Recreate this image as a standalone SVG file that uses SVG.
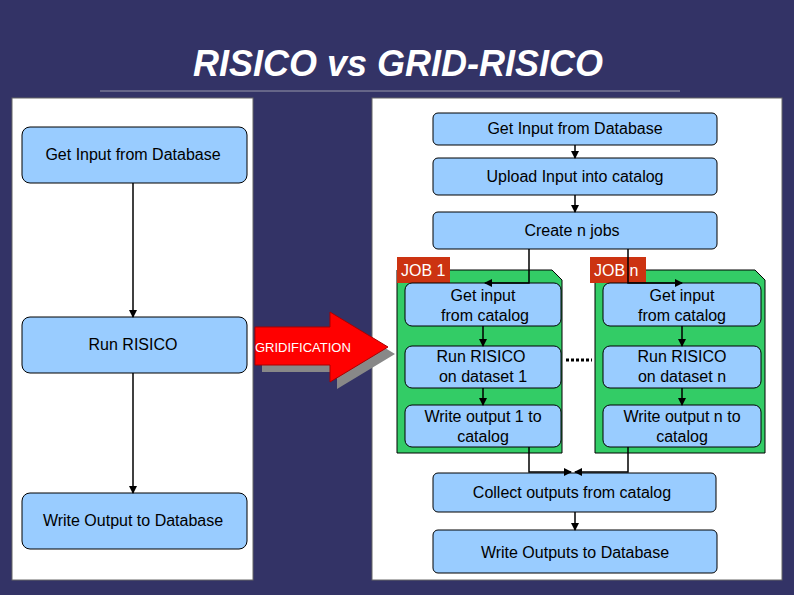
<svg xmlns="http://www.w3.org/2000/svg" width="794" height="595" viewBox="0 0 794 595">
<defs>
<marker id="ah" markerWidth="8" markerHeight="8" refX="7" refY="4" orient="auto" markerUnits="userSpaceOnUse"><path d="M0,0 L8,4 L0,8 z" fill="#000"/></marker>
<style>
.b{fill:#99ccff;stroke:#000;stroke-width:1}
.t{font-family:"Liberation Sans",Arial,sans-serif;font-size:16px;fill:#000;text-anchor:middle}
.c{fill:none;stroke:#000;stroke-width:1.5;marker-end:url(#ah)}
.g{fill:#33cc66;stroke:#000;stroke-width:1}
.r{fill:#cc3311}
.w{font-family:"Liberation Sans",Arial,sans-serif;font-size:16px;fill:#fff}
</style>
</defs>
<rect width="794" height="595" fill="#333366"/>
<text x="398" y="76" font-family="Liberation Sans,Arial,sans-serif" font-size="36" font-weight="bold" font-style="italic" fill="#fff" text-anchor="middle">RISICO vs GRID-RISICO</text>
<line x1="100" y1="91" x2="680" y2="91" stroke="#9999aa" stroke-width="1"/>
<rect x="12" y="98" width="241" height="482" fill="#fff" stroke="#666"/>
<rect x="372" y="98" width="410" height="482" fill="#fff" stroke="#666"/>
<g id="l1"><rect class="b" x="22" y="127" width="225" height="56" rx="8"/><text class="t" x="133" y="160">Get Input from Database</text></g>
<g id="l2"><rect class="b" x="22" y="317" width="225" height="56" rx="8"/><text class="t" x="133" y="350">Run RISICO</text></g>
<g id="l3"><rect class="b" x="22" y="493" width="225" height="56" rx="8"/><text class="t" x="133" y="526">Write Output to Database</text></g>
<g id="grid">
<path d="M262,334 H337 V319 L395,354 L337,389 V372 H262 z" fill="#888"/>
<path d="M255,327 H330 V312 L388,347 L330,382 V365 H255 z" fill="#ff0000" stroke="#aa0000"/>
<text x="255" y="352" font-family="Liberation Sans,Arial,sans-serif" font-size="13" fill="#fff">GRIDIFICATION</text>
</g>
<g id="r1"><rect class="b" x="433" y="113" width="284" height="32" rx="5"/><text class="t" x="575" y="134">Get Input from Database</text></g>
<g id="r2"><rect class="b" x="433" y="158" width="284" height="37" rx="5"/><text class="t" x="575" y="182">Upload Input into catalog</text></g>
<g id="r3"><rect class="b" x="433" y="212" width="284" height="37" rx="5"/><text class="t" x="572" y="236">Create n jobs</text></g>
<g id="job1">
<path class="g" d="M397,270 H552 L562,280 V453 H397 z"/>
<rect class="r" x="397" y="257" width="53" height="26"/><text class="w" x="401" y="276">JOB 1</text>
<rect class="b" x="405" y="283" width="156" height="43" rx="7"/><text class="t" x="483" y="301">Get input</text><text class="t" x="485" y="321">from catalog</text>
<rect class="b" x="405" y="346" width="156" height="42" rx="7"/><text class="t" x="481" y="362">Run RISICO</text><text class="t" x="483" y="382">on dataset 1</text>
<rect class="b" x="405" y="405" width="156" height="42" rx="7"/><text class="t" x="483" y="422">Write output 1 to</text><text class="t" x="483" y="442">catalog</text>
</g>
<g id="jobn">
<path class="g" d="M595,270 H755 L765,280 V453 H595 z"/>
<rect class="r" x="590" y="257" width="56" height="26"/><text class="w" x="594" y="276">JOB n</text>
<rect class="b" x="603" y="283" width="158" height="43" rx="7"/><text class="t" x="682" y="301">Get input</text><text class="t" x="682" y="321">from catalog</text>
<rect class="b" x="603" y="346" width="158" height="42" rx="7"/><text class="t" x="682" y="362">Run RISICO</text><text class="t" x="682" y="382">on dataset n</text>
<rect class="b" x="603" y="405" width="158" height="42" rx="7"/><text class="t" x="682" y="422">Write output n to</text><text class="t" x="682" y="442">catalog</text>
</g>
<g id="r4"><rect class="b" x="433" y="473" width="283" height="39" rx="5"/><text class="t" x="572" y="498">Collect outputs from catalog</text></g>
<g id="r5"><rect class="b" x="433" y="530" width="284" height="43" rx="5"/><text class="t" x="575" y="558">Write Outputs to Database</text></g>
<g id="connectors">
<path class="c" d="M133,183 V317"/>
<path class="c" d="M133,373 V493"/>
<path class="c" d="M575,145 V158"/>
<path class="c" d="M575,195 V212"/>
<path class="c" d="M529,249 V283 H485"/>
<path class="c" d="M628,249 V283 H682"/>
<path class="c" d="M483,326 V346"/>
<path class="c" d="M483,388 V405"/>
<path class="c" d="M682,326 V346"/>
<path class="c" d="M682,388 V405"/>
<path class="c" d="M529,447 V472 H571"/>
<path class="c" d="M628,447 V472 H575"/>
<path class="c" d="M575,512 V530"/>
<line x1="566" y1="360" x2="592" y2="360" stroke="#000" stroke-width="3" stroke-dasharray="3,2"/>
</g>
</svg>
